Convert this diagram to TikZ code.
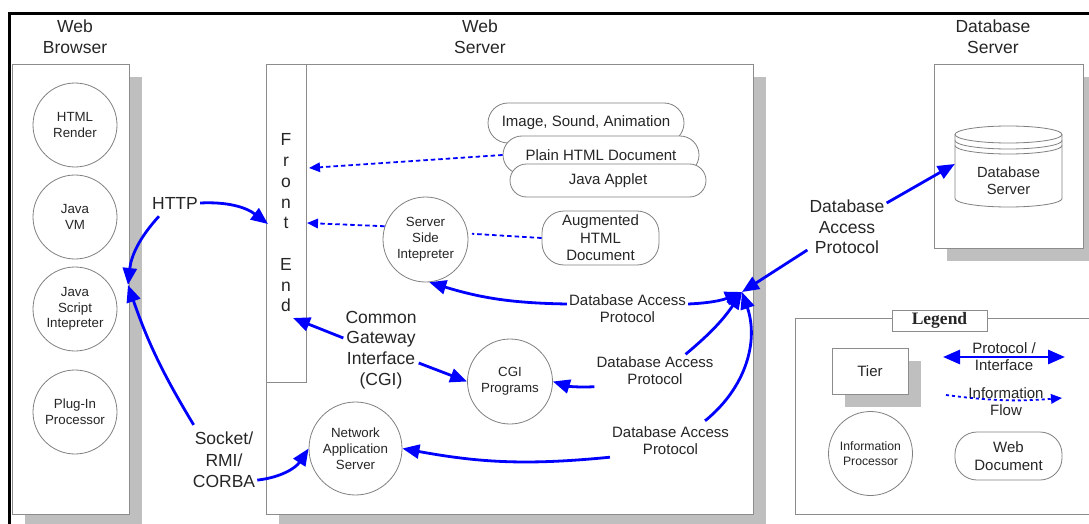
\documentclass[tikz,border=0pt]{standalone}
\usepackage{fontspec}
\setmainfont{Liberation Sans}
\newfontfamily\legendserif{Liberation Serif}
\usetikzlibrary{arrows.meta}

\newcommand\setfs[2]{\fontsize{#1}{#2}\selectfont}

\begin{document}
\begin{tikzpicture}[x=1pt,y=-1pt,
  every node/.style={text=black!85},
  tierbox/.style={draw=black!45, fill=white, line width=0.9pt, inner sep=0pt},
  tiershadow/.style={fill=black!25},
  proc/.style={circle, draw=black!50, line width=0.8pt, fill=white, inner sep=0pt,
    minimum size=84pt, align=center, font=\setfs{13.3}{15.8}},
  webdoc/.style={rectangle, draw=black!50, line width=0.8pt, fill=white, inner sep=0pt,
    align=center, font=\setfs{15}{17.5}},
  biglbl/.style={align=center, inner sep=2pt, font=\setfs{17.5}{21}},
  smalllbl/.style={align=center, inner sep=2pt, font=\setfs{15}{17}},
  proto/.style={draw=blue, line width=2.8pt, -{Triangle[length=17pt,width=14pt]}},
  flowline/.style={draw=blue, line width=1.8pt, dash pattern=on 4.5pt off 3pt},
  flow/.style={flowline, -{Triangle[length=11pt,width=9.5pt]}},
]
\useasboundingbox (0,0) rectangle (1089,524);
\clip (0,0) rectangle (1089,524);

% page frame
\draw[line width=3pt] (9,560) -- (9,14) -- (1120,14);

% ---------- Web browser tier ----------
\fill[tiershadow] (25,77) rectangle (142,540);
\node[tierbox, anchor=north west, minimum width=117pt, minimum height=450pt] (browser) at (12,64) {};
\node[biglbl] (browsertitle) at (75,37) {Web\\Browser};
\node[proc] (html) at (75,125) {HTML\\Render};
\node[proc] (jvm) at (75,217) {Java\\VM};
\node[proc] (js) at (75,309) {Java\\Script\\Intepreter};
\node[proc] (plugin) at (75,412) {Plug-In\\Processor};

% ---------- Web server tier ----------
\fill[tiershadow] (279,77) rectangle (766,540);
\node[tierbox, anchor=north west, minimum width=487pt, minimum height=450pt] (server) at (266,64) {};
\node[biglbl] (servertitle) at (480,37) {Web\\Server};
\node[tierbox, minimum width=40pt, minimum height=318pt, align=center,
  font=\setfs{17.5}{20.75}] (fe) at (286,223) {F\\r\\o\\n\\t\\[20.75pt]E\\n\\d};

\node[webdoc, minimum width=196pt, minimum height=40pt, rounded corners=20pt] (media) at (586,123) {Image, Sound, Animation};
\node[webdoc, minimum width=196pt, minimum height=38pt, rounded corners=19pt] (plain) at (601,155) {Plain HTML Document};
\node[webdoc, minimum width=196pt, minimum height=33pt, rounded corners=16.5pt] (applet) at (608,180.5) {Java Applet};
\node[webdoc, minimum width=117pt, minimum height=54pt, rounded corners=22pt] (aug) at (600.5,238) {Augmented\\HTML\\Document};

\node[proc, minimum size=85pt] (ssi) at (425.5,239.5) {Server\\Side\\Intepreter};
\node[proc, minimum size=85pt] (cgi) at (510,381.5) {CGI\\Programs};
\node[proc, minimum size=93pt] (nas) at (355.5,448.5) {Network\\Application\\Server};

% ---------- Database server tier ----------
\fill[tiershadow] (947,77) rectangle (1096,261);
\node[tierbox, anchor=north west, minimum width=149pt, minimum height=184pt] (dbtier) at (934,64) {};
\node[biglbl] (dbtitle) at (993,37) {Database\\Server};
\begin{scope}[draw=black!50, line width=0.8pt]
  \fill[white] (955,134.5) -- (955,198.5) arc[start angle=180, end angle=360, x radius=53.5pt, y radius=8.5pt]
    -- (1062,134.5) arc[start angle=0, end angle=180, x radius=53.5pt, y radius=8.5pt] -- cycle;
  \draw (955,134.5) -- (955,198.5) arc[start angle=180, end angle=360, x radius=53.5pt, y radius=8.5pt] -- (1062,134.5);
  \draw (1008.5,134.5) ellipse[x radius=53.5pt, y radius=8.5pt];
  \draw (955,140.5) arc[start angle=180, end angle=360, x radius=53.5pt, y radius=8.5pt];
  \draw (955,145.5) arc[start angle=180, end angle=360, x radius=53.5pt, y radius=8.5pt];
\end{scope}
\node[align=center, font=\setfs{14.7}{17}, minimum width=107pt, minimum height=40pt] (db) at (1008.5,181) {Database\\Server};

% ---------- connector ends ----------
\coordinate (jsA) at (128,285);
\coordinate (feA) at (268,224);
\coordinate (feB) at (309,168);
\coordinate (feC) at (293,318);
\coordinate (feD) at (307,223);
\coordinate (hub) at (742,292);

% ---------- protocol labels ----------
\node[biglbl] (http) at (175,203) {HTTP};
\node[biglbl, font=\setfs{17.5}{21.5}] (sock) at (224,460) {Socket/\\RMI/\\CORBA};
\node[biglbl, font=\setfs{17.5}{20.8}] (cgil) at (381,350) {Common\\Gateway\\Interface\\(CGI)};
\node[biglbl, font=\setfs{17.5}{20.5}] (dbl) at (847,227) {Database\\Access\\Protocol};
\node[smalllbl] (dap1) at (627.5,308.5) {Database Access\\Protocol};
\node[smalllbl] (dap2) at (655,370.5) {Database Access\\Protocol};
\node[smalllbl] (dap3) at (670.5,441) {Database Access\\Protocol};

% ---------- protocol connectors ----------
\draw[proto] (http.east) to[bend left=20] (feA);
\draw[proto] ([xshift=9pt,yshift=-5pt]http.south west) to[bend right=18] (jsA);
\draw[proto] ([xshift=3pt,yshift=5pt]sock.north west) to[bend left=6] (jsA);
\draw[proto] ([yshift=10pt]sock.south east) to[bend right=25] (nas.west);
\draw[proto] ([yshift=12pt]cgil.west) -- (feC);
\draw[proto] ([yshift=-13pt]cgil.east) -- (cgi.west);
\draw[proto] ([yshift=24pt]dbl.east) -- ([yshift=17pt]db.west);
\draw[proto] ([yshift=-23pt]dbl.west) -- (hub);
\draw[proto] ([yshift=4.5pt]dap1.west) to[bend left=8] (ssi.-85);
\draw[proto] ([yshift=4.5pt]dap1.east) to[bend right=10] (hub);
\draw[proto] (dap2.south west) to[bend left=10] (cgi.east);
\draw[proto] ([xshift=-30pt]dap2.north east) to[bend right=8] (hub);
\draw[proto] (dap3.south west) to[bend left=8] (nas.east);
\draw[proto] ([xshift=-26pt,yshift=4pt]dap3.north east) to[bend right=35] (hub);

% ---------- information flows ----------
\draw[flow] (plain.west) -- (feB);
\draw[flow] (ssi.162) -- (feD);
\draw[flowline, shorten >=4pt] (aug.west) -- (ssi.8);

% ---------- legend ----------
\node[tierbox, anchor=north west, minimum width=315pt, minimum height=196pt] (legend) at (795,318) {};
\node[draw=black!45, fill=white, line width=0.9pt, minimum width=95pt, minimum height=21pt, inner sep=0pt,
  font=\legendserif\bfseries\setfs{17.5}{19}] (legendtitle) at (939.5,320.5) {Legend};
\fill[tiershadow] (845,361) rectangle (921,407);
\node[tierbox, minimum width=76pt, minimum height=46pt, font=\setfs{15}{17}] (ltier) at (870,371) {Tier};
\coordinate (lpA) at (943,357);
\coordinate (lpB) at (1065,357);
\draw[proto, {Triangle[length=17pt,width=14pt]}-{Triangle[length=17pt,width=14pt]}] (lpA) -- (lpB);
\node[smalllbl] (lproto) at (1004,356.5) {Protocol /\\Interface};
\coordinate (lfA) at (946,395);
\coordinate (lfB) at (1062,398);
\draw[flow, dash pattern=on 3pt off 3pt] (lfA) to[bend right=6] (lfB);
\node[smalllbl] (lflow) at (1006,401.5) {Information\\Flow};
\node[proc, minimum size=84pt, font=\setfs{12.2}{14.5}] (lproc) at (870.5,453.5) {Information\\Processor};
\node[webdoc, minimum width=107pt, minimum height=48pt, rounded corners=22pt] (ldoc) at (1008.5,456) {Web\\Document};
\end{tikzpicture}
\end{document}
